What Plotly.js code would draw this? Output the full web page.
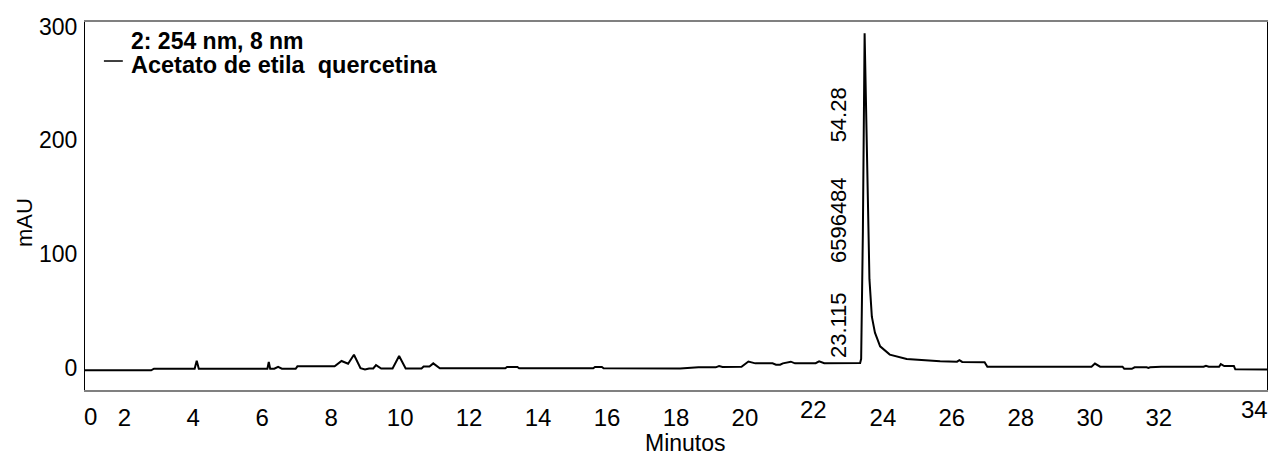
<!DOCTYPE html>
<html>
<head>
<meta charset="utf-8">
<script src="https://cdn.plot.ly/plotly-3.0.1.min.js"></script>
<style>html,body{margin:0;padding:0;background:#fff;}#chart{width:1272px;height:459px;}</style>
</head>
<body>
<div id="chart"></div>
<script>
// Retention time (min) and absorbance (mAU)
const timeMin = [0.86, 2.78, 2.86, 4.04, 4.10, 4.16, 6.15, 6.19, 6.23, 6.35, 6.46, 6.57, 6.97, 7.02,
  8.10, 8.30, 8.49, 8.66, 8.85, 8.98, 9.10, 9.22, 9.30, 9.45, 9.78, 9.97, 10.16, 10.62, 10.68, 10.85, 10.96, 11.15,
  13.05, 13.10, 13.40, 13.45, 15.60, 15.65, 15.85, 15.90, 18.12, 18.65, 19.15, 19.25, 19.35, 19.90, 20.10, 20.30,
  20.80, 20.90, 21.02, 21.10, 21.33, 21.45, 22.05, 22.15, 22.30, 23.34, 23.37, 23.42, 23.47, 23.51, 23.56, 23.61,
  23.68, 23.77, 23.92, 24.20, 24.69, 25.66, 26.15, 26.22, 26.30, 26.95, 27.03, 30.05, 30.15, 30.30, 30.95, 31.00,
  31.22, 31.30, 31.65, 31.70, 31.75, 32.07, 33.30, 33.37, 33.45, 33.75, 33.80, 33.90, 34.18, 34.22, 35.14];
const absorbance = [-2.1, -2.1, -0.7, -0.7, 6.3, -0.7, -0.7, 5.2, -0.7, -0.7, 1.0, -0.7, -0.7, 1.4,
  1.4, 6.1, 3.7, 11.6, -0.3, -1.4, -0.5, -0.5, 2.5, -0.5, -0.5, 10.5, -0.5, -0.5, 1.2, 1.2, 4.0, -0.3,
  -0.3, 0.8, 0.8, -0.3, -0.3, 0.8, 0.8, -0.3, -0.6, 0.5, 0.5, 1.6, 0.8, 1.0, 5.6, 4.0,
  4.0, 2.8, 2.8, 4.0, 5.5, 4.0, 4.2, 5.8, 4.2, 4.4, 8.0, 120, 294, 236, 148, 78,
  45, 31, 19, 11.7, 7.9, 5.8, 5.5, 6.8, 5.3, 5.0, 1.1, 1.1, 3.8, 1.1, 1.1, -0.8,
  -0.8, 0.5, 0.5, 0.0, 0.5, 1.0, 1.0, 1.8, 1.0, 1.0, 3.3, 1.6, 1.6, -1.2, -1.4];

// Peak annotation (rotated): retention time, area, area %
const peakTime = 23.115;
const peakArea = "6596484";
const peakPct = "54.28";

const xTicks = [2, 4, 6, 8, 10, 12, 14, 16, 18, 20, 24, 26, 28, 30, 32];
const xTickText = ["2", "4", "6", "8", "10", "12", "14", "16", "18", "20", "24", "26", "28", "30", "32"];
const yTicks = [0, 100, 200, 300];

const legendTitle = "2: 254 nm, 8 nm";
const seriesName = "Acetato de etila\u00a0 quercetina";

const FONT = "Liberation Sans, Arial, sans-serif";

const trace = {
  x: timeMin, y: absorbance, type: "scatter", mode: "lines",
  line: {color: "#000000", width: 2}, name: seriesName, showlegend: false
};

function ann(o) {
  return Object.assign({showarrow: false, xanchor: "center", yanchor: "middle", borderpad: 0,
    font: {family: FONT, size: 22, color: "#000"}}, o);
}

const layout = {
  width: 1272, height: 459,
  margin: {l: 85, r: 5, t: 22, b: 69},
  paper_bgcolor: "#ffffff", plot_bgcolor: "#ffffff",
  font: {family: FONT, size: 22, color: "#000"},
  showlegend: false,
  xaxis: {
    range: [0.86, 35.14], showgrid: false, zeroline: false,
    tickvals: xTicks, ticktext: xTickText, ticks: "",
    tickfont: {family: FONT, size: 24, color: "#000"},
    showline: true, linecolor: "#808080", linewidth: 2, mirror: true,
    ticklabelstandoff: 5
  },
  yaxis: {
    range: [-19.4, 304], showgrid: false, zeroline: false,
    tickvals: yTicks, ticks: "",
    tickfont: {family: FONT, size: 23, color: "#000"},
    showline: true, linecolor: "#000000", linewidth: 1, mirror: true,
    ticklabelstandoff: 2
  },
  annotations: [
    ann({xref: "paper", yref: "paper", x: 0.038, y: 0.9475, xanchor: "left",
     text: "<b>" + legendTitle + "</b>", font: {family: FONT, size: 23, color: "#000"}}),
    ann({xref: "paper", yref: "paper", x: 0.038, y: 0.882, xanchor: "left",
     text: "<b>" + seriesName + "</b>", font: {family: FONT, size: 23.5, color: "#000"}}),
    ann({xref: "x", yref: "y", x: 22.7, y: 37.7, text: String(peakTime), textangle: -90}),
    ann({xref: "x", yref: "y", x: 22.7, y: 130, text: peakArea, textangle: -90}),
    ann({xref: "x", yref: "y", x: 22.7, y: 222, text: peakPct, textangle: -90}),
    ann({xref: "paper", yref: "paper", x: -0.0516, y: 0.4538, text: "mAU", textangle: -90}),
    ann({xref: "paper", yref: "paper", x: 0.508, y: -0.145, text: "Minutos", font: {family: FONT, size: 23, color: "#000"}}),
    ann({xref: "paper", yref: "paper", x: 0.005, y: -0.072, text: "0", font: {family: FONT, size: 24, color: "#000"}}),
    ann({xref: "x", yref: "paper", x: 22, y: -0.052, text: "22", font: {family: FONT, size: 24, color: "#000"}}),
    ann({xref: "x", yref: "paper", x: 34, xshift: 27, y: -0.052, text: "34", font: {family: FONT, size: 24, color: "#000"}})
  ],
  shapes: [
    {type: "line", xref: "paper", yref: "paper", x0: 0.016, x1: 0.032, y0: 0.894, y1: 0.894,
     line: {color: "#000", width: 1.5}}
  ]
};

Plotly.newPlot("chart", [trace], layout, {displayModeBar: false, staticPlot: true});
</script>
</body>
</html>
